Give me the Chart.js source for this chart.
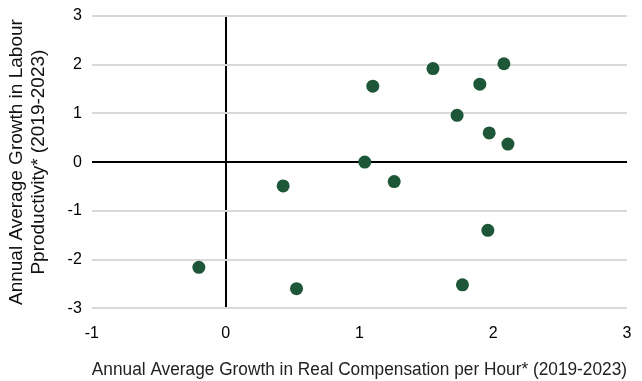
<!DOCTYPE html>
<html>
<head>
<meta charset="utf-8">
<script src="https://cdn.jsdelivr.net/npm/chart.js@4/dist/chart.umd.min.js"></script>
<style>
html,body{margin:0;padding:0;background:#fff;}
#wrap{width:642px;height:381px;}
</style>
</head>
<body>
<div id="wrap"><canvas id="c" width="642" height="381"></canvas></div>
<script>
const compensationGrowth = [-0.20, 0.43, 0.53, 1.04, 1.10, 1.26, 1.55, 1.73, 1.77, 1.90, 1.96, 1.97, 2.08, 2.11];
const productivityGrowth = [-2.16, -0.49, -2.60, 0.00, 1.56, -0.40, 1.92, 0.96, -2.52, 1.60, -1.40, 0.60, 2.02, 0.37];
const xTitle = "Annual Average Growth in Real Compensation per Hour* (2019-2023)";
const yTitle = ["Annual Average Growth in Labour", "Pproductivity* (2019-2023)"];

const points = compensationGrowth.map((x, i) => ({x: x, y: productivityGrowth[i]}));

new Chart(document.getElementById('c'), {
  type: 'scatter',
  data: {
    datasets: [{
      data: points,
      backgroundColor: '#1d5738',
      borderColor: '#1d5738',
      pointRadius: 6.5,
      pointHoverRadius: 6.5,
      borderWidth: 0
    }]
  },
  options: {
    responsive: false,
    animation: false,
    layout: {padding: {top: 16, right: 15, left: 5, bottom: 0}},
    plugins: {legend: {display: false}, tooltip: {enabled: false}},
    scales: {
      x: {
        type: 'linear', min: -1, max: 3,
        ticks: {stepSize: 1, color: '#000', font: {family: 'Liberation Sans', size: 16}, padding: 2},
        grid: {
          drawTicks: true,
          tickLength: 14,
          tickColor: 'rgba(0,0,0,0)',
          lineWidth: 2,
          color: (ctx) => (ctx.tick && ctx.tick.value === 0) ? '#000' : 'rgba(0,0,0,0)'
        },
        border: {display: false},
        title: {display: true, text: xTitle, color: '#222', font: {family: 'Liberation Sans', size: 18}, padding: {top: 14, bottom: 0}}
      },
      y: {
        type: 'linear', min: -3, max: 3,
        ticks: {stepSize: 1, color: '#000', font: {family: 'Liberation Sans', size: 16, lineHeight: 1}, padding: 0},
        grid: {
          drawTicks: true,
          tickLength: 10,
          tickColor: 'rgba(0,0,0,0)',
          lineWidth: 2,
          color: (ctx) => (ctx.tick && ctx.tick.value === 0) ? '#000' : '#d9d9d9'
        },
        border: {display: false},
        title: {display: true, text: yTitle, color: '#111', font: {family: 'Liberation Sans', size: 19, lineHeight: 1.2}, padding: {top: 0, bottom: 17}}
      }
    }
  }
});
</script>
</body>
</html>
